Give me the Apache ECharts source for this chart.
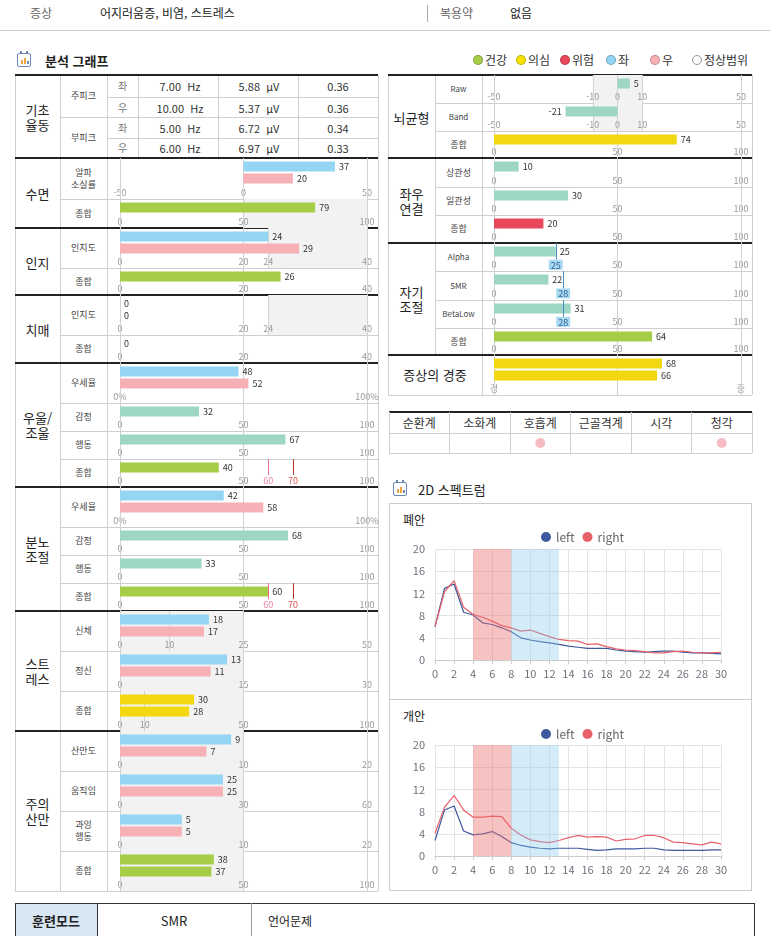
<!DOCTYPE html>
<html lang="ko"><head><meta charset="utf-8">
<script src="https://cdn.jsdelivr.net/npm/echarts@6.0.0/dist/echarts.min.js"></script>
<style>
html,body{margin:0;padding:0;background:#fff;}
#page{position:relative;width:770px;height:936px;overflow:hidden;font-family:"Noto Sans CJK KR","Noto Sans",sans-serif;color:#222;background:#fff;}
#deco,#chart{position:absolute;left:0;top:0;width:770px;height:936px;}
.l{position:absolute;}
.t{position:absolute;white-space:pre;line-height:1.15;transform:translate(-50%,-50%);text-align:center;}
.tl{position:absolute;white-space:pre;line-height:1;transform:translateY(-50%);}
</style></head>
<body><div id="page"><div id="deco"></div><div id="chart"></div></div>
<script>
// ================= DATA =================
const symptomText = '어지러움증, 비염, 스트레스';
const medicineText = '없음';
const legendNames = ['건강','의심','위험','좌','우','정상범위'];

const peakGroups = ['주피크','부피크'];
const peakSides = ['좌','우','좌','우'];
const peakFreqHz = ['7.00','10.00','5.00','6.00'];
const peakAmpUv = ['5.88','5.37','6.72','6.97'];
const peakRatio = ['0.36','0.36','0.34','0.33'];

const leftSections = ['기초\n율동','수면','인지','치매','우울/\n조울','분노\n조절','스트\n레스','주의\n산만'];
const leftItems = ['알파\n소실률','종합','인지도','종합','인지도','종합','우세율','감정','행동','종합','우세율','감정','행동','종합','신체','정신','종합','산만도','움직임','과잉\n행동','종합'];

const sleepAlphaLoss = [37, 20];
const sleepTotal = [79];
const cognitionIndex = [24, 29];
const cognitionTotal = [26];
const dementiaIndex = [0, 0];
const dementiaTotal = [0];
const depressionDominance = [48, 52];
const depressionEmotion = [32];
const depressionBehavior = [67];
const depressionTotal = [40];
const angerDominance = [42, 58];
const angerEmotion = [68];
const angerBehavior = [33];
const angerTotal = [60];
const stressBody = [18, 17];
const stressMind = [13, 11];
const stressTotal = [30, 28];
const attentionDistract = [9, 7];
const attentionMotion = [25, 25];
const attentionHyper = [5, 5];
const attentionTotal = [38, 37];

const rightSections = ['뇌균형','좌우\n연결','자기\n조절'];
const rightItems = ['Raw','Band','종합','상관성','일관성','종합','Alpha','SMR','BetaLow','종합'];
const severityTitle = '증상의 경중';
const brainRaw = [5];
const brainBand = [-21];
const brainTotal = [74];
const lrCorrelation = [10];
const lrConsistency = [30];
const lrTotal = [20];
const selfAlpha = [25];
const selfSmr = [22];
const selfBetaLow = [31];
const selfRefs = [25, 28, 28];
const selfTotal = [64];
const severity = [68, 66];

// tick labels and reference ranges
const ticksPm50 = [-50, 0, 50];
const ticks100 = [0, 50, 100];
const ticksCog = [0, 20, 24, 40];
const ticks40 = [0, 20, 40];
const ticksStressBody = [0, 10, 25, 50];
const ticksStressMind = [0, 15, 30];
const ticksStressTotal = [0, 10, 50, 100];
const ticks20 = [0, 10, 20];
const ticks60 = [0, 30, 60];
const ticksBalance = [-50, -10, 0, 10, 50];
const labelsEnds = [0, 100];
const severityLabels = ['경', '중'];
const riskMarks = [60, 70];
const normalSleep = [50, 100];
const normalCog = [24, 40];
const normalStressBody = [0, 25];
const normalStressMind = [0, 15];
const normalStressTotal = [0, 50];
const normalDistract = [0, 10];
const normalMotion = [0, 30];
const normalHyper = [0, 10];
const normalAttention = [0, 50];
const normalBalance = [-10, 10];

const bodySystems = ['순환계','소화계','호흡계','근골격계','시각','청각'];
const bodyFlags = [0, 0, 1, 0, 0, 1];

const spectrumTitles = ['폐안', '개안'];
const specHz = [0,1,2,3,4,5,6,7,8,9,10,11,12,13,14,15,16,17,18,19,20,21,22,23,24,25,26,27,28,29,30];
const closedLeft  = [6.0,12.9,13.7,8.6,8.1,6.7,6.4,5.8,5.1,4.0,3.6,3.3,3.1,2.8,2.5,2.3,2.1,2.1,2.1,1.8,1.6,1.5,1.4,1.5,1.6,1.6,1.4,1.3,1.3,1.2,1.1];
const closedRight = [6.0,12.3,14.3,9.5,8.2,7.7,7.0,6.2,5.8,5.2,5.4,4.8,4.2,3.7,3.5,3.4,2.8,2.9,2.4,2.0,1.8,1.7,1.5,1.3,1.3,1.5,1.6,1.4,1.3,1.3,1.4];
const openLeft    = [2.8,8.3,9.0,4.5,3.8,4.0,4.4,3.5,2.4,1.9,1.6,1.4,1.3,1.4,1.4,1.4,1.2,1.0,1.1,1.3,1.3,1.3,1.4,1.4,1.1,1.0,1.0,1.0,1.0,1.1,1.1];
const openRight   = [4.1,8.8,10.9,8.3,7.0,7.0,7.2,7.1,5.0,3.8,2.9,2.6,2.4,2.8,3.3,3.7,3.4,3.5,3.4,2.7,3.0,3.1,3.7,3.7,3.3,2.5,2.4,2.2,2.0,2.5,2.2];
const thetaBand = [4, 8];
const alphaBand = [8, 13];

const trainingLabel = '훈련모드';
const trainingMode = 'SMR';
const trainingNote = '언어문제';

// ================= STYLE / LAYOUT =================
const FONT = '"Noto Sans CJK KR","Noto Sans",sans-serif';
const BLUE='#93d5f2', PINK='#f6b0b6', GREEN='#a6cd48', YELLOW='#f2d810', TEAL='#9dd6c4', RED='#e8485a';
const LR=[BLUE,PINK];
const GRAY='#cfcfcf', DARK='#222';

const deco = document.getElementById('deco');
function box(x,y,w,h,style){const d=document.createElement('div');d.className='l';d.style.cssText=`left:${x}px;top:${y}px;width:${w}px;height:${h}px;`+(style||'');deco.appendChild(d);return d;}
function hl(x1,x2,y,c,w){w=w||1;box(x1,y-w/2,x2-x1,w,'background:'+c);}
function vl(x,y1,y2,c,w){w=w||1;box(x-w/2,y1,w,y2-y1,'background:'+c);}
function tc(x,y,s,style){const d=document.createElement('div');d.className='t';d.style.cssText=`left:${x}px;top:${y}px;`+(style||'');d.textContent=s;deco.appendChild(d);return d;}
function tl(x,y,s,style){const d=document.createElement('div');d.className='tl';d.style.cssText=`left:${x}px;top:${y}px;`+(style||'');d.textContent=s;deco.appendChild(d);return d;}

// header
tl(30,13,'증상','font-size:12px;color:#666;');
tl(100,13,symptomText,'font-size:12px;color:#222;');
vl(427,5,22,'#aaa');
tl(440,13,'복용약','font-size:12px;color:#666;');
tl(510,13,medicineText,'font-size:12px;color:#222;');
hl(0,770,30.5,'#c8c8c8',1.5);

// section title icons
function icon(x,y){
  box(x,y,14,14,'border:1.5px solid #6d86b6;border-radius:2px;box-sizing:border-box;background:#fff;');
  box(x+4,y+7,2,4,'background:#f0a640;');box(x+7,y+5,2,6,'background:#f0a640;');box(x+10-0.5,y+8,2,3,'background:#6d86b6;');
  box(x+3,y-2,2,3,'background:#6d86b6;');box(x+9,y-2,2,3,'background:#6d86b6;');
}
icon(17,53);
tl(45,60,'분석 그래프','font-size:13px;font-weight:bold;color:#222;');
icon(393,482);
tl(418,489,'2D 스펙트럼','font-size:13px;color:#222;');

// top legend
(function(){
  const cols=[GREEN,'#f7e000',RED,BLUE,PINK,'#fff'];
  const cx=[478,521,565,611,655,697];
  legendNames.forEach((n,i)=>{
    box(cx[i]-5,55,10,10,`border-radius:50%;box-sizing:border-box;background:${cols[i]};border:1px solid ${i===5?'#999':'rgba(0,0,0,0.22)'};`);
    tl(cx[i]+7,60,n,'font-size:12px;color:#333;');
  });
})();

// ---- left table frame ----
const L0=15,L1=60,L2=107,L3=378;
const leftBounds=[75,158,228,295,363,487,611,731,891];
vl(L0,75,891,GRAY);vl(L1,75,891,GRAY);vl(L2,75,891,GRAY);vl(L3,75,891,GRAY);
hl(L0,L3,891,GRAY);
[97,138].forEach(y=>hl(L2,L3,y,GRAY));
hl(L1,L3,117.5,GRAY);
[138,218,298].forEach(x=>vl(x,75,158,GRAY));
leftSections.forEach((s,i)=>tc((L0+L1)/2,(leftBounds[i]+leftBounds[i+1])/2,s,'font-size:13px;color:#222;line-height:15px;'));
tc((L1+L2)/2,96,peakGroups[0],'font-size:9px;color:#444;');
tc((L1+L2)/2,138,peakGroups[1],'font-size:9px;color:#444;');
const peakRowY=[86,107.5,128,148];
peakRowY.forEach((y,i)=>{
  tc(122.5,y,peakSides[i],'font-size:10px;color:#777;');
  tc(180,y,peakFreqHz[i]+'  Hz','font-size:11px;color:#333;');
  tc(259,y,peakAmpUv[i]+'  μV','font-size:11px;color:#333;');
  tc(338,y,peakRatio[i],'font-size:11px;color:#333;');
});

// ---- right table frame ----
const R0=388,R1=435,R2=482,R3=752;
const rightBounds=[75,158,243,355];
vl(R0,75,395,GRAY);vl(R1,75,355,GRAY);vl(R2,75,395,GRAY);vl(R3,75,395,GRAY);
hl(R0,R3,395,GRAY);
rightSections.forEach((s,i)=>tc((R0+R1)/2,(rightBounds[i]+rightBounds[i+1])/2,s,'font-size:13px;color:#222;line-height:15px;'));
tc((R0+R2)/2,375,severityTitle,'font-size:13px;color:#222;');

// ---- body system table ----
const B0=389,B1=752;
hl(B0,B1,412,DARK,2);hl(B0,B1,433,GRAY);hl(B0,B1,453,GRAY);
for(let i=0;i<=6;i++)vl(B0+(B1-B0)*i/6,412,453,GRAY);
bodySystems.forEach((s,i)=>tc(B0+(B1-B0)*(i+0.5)/6,422.5,s,'font-size:12px;color:#333;'));

// ---- spectrum box ----
box(389,503,363,388,'border:1px solid #ccc;box-sizing:border-box;');
hl(389,752,699,'#ccc');
tl(403,520,spectrumTitles[0],'font-size:12px;color:#222;');
tl(403,716,spectrumTitles[1],'font-size:12px;color:#222;');

// ---- training mode row ----
box(15,903,740,40,'border:1px solid #333;box-sizing:border-box;');
box(16,904,81,38,'background:#d9e7f5;');
vl(97,903,936,'#333');vl(251,903,936,'#999');
tc(56,921,trainingLabel,'font-size:13px;font-weight:bold;color:#222;');
tc(174,921,trainingMode,'font-size:13px;color:#222;');
tl(268,921,trainingNote,'font-size:12px;color:#222;');

// ================= ECHARTS =================
const option={animation:false,textStyle:{fontFamily:FONT},grid:[],xAxis:[],yAxis:[],series:[],legend:[]};
function gcd(a,b){a=Math.abs(a);b=Math.abs(b);while(b){const t=a%b;a=b;b=t;}return a;}

function addBarRow(r,L,R){
  const labels=r.labels||r.ticks;
  const step=r.ticks.concat(labels).reduce((g,v)=>gcd(g,v-r.min),0)||(r.max-r.min);
  // grid A: full row (grid lines, shading, axis labels, markers)
  const gA=option.grid.length;
  option.grid.push({left:L,top:r.top,width:R-L,height:r.h});
  option.xAxis.push({type:'value',gridIndex:gA,min:r.min,max:r.max,interval:step,
    axisLine:{show:false},axisTick:{show:false},splitLine:{show:false},
    axisLabel:{inside:true,margin:1.5,fontSize:9,color:'#999',hideOverlap:false,
      formatter:v=>labels.indexOf(v)>=0?(r.fmt?r.fmt(v):String(v)):''}});
  option.yAxis.push({type:'value',gridIndex:gA,min:0,max:1,show:false});
  if(r.shade){
    option.series.push({type:'scatter',xAxisIndex:gA,yAxisIndex:gA,data:[[r.min,0]],symbolSize:0,silent:true,z:0,
      markArea:{silent:true,z:0,itemStyle:{color:'#f2f2f2'},data:[[{xAxis:r.shade[0]},{xAxis:r.shade[1]}]]}});
  }
  option.series.push({type:'scatter',xAxisIndex:gA,yAxisIndex:gA,data:[[r.min,0]],symbolSize:0,silent:true,z:1,
    markLine:{silent:true,z:1,symbol:'none',label:{show:false},lineStyle:{color:'#d2d2d2',width:1,type:'solid'},
      data:r.ticks.map(v=>({xAxis:v}))}});
  if(r.marks){
    const mc=[['#e56a9a','#ec87a5'],['#b7372b','#e0584f']];
    option.series.push({type:'scatter',xAxisIndex:gA,yAxisIndex:gA,data:[[r.min,0]],symbolSize:0,silent:true,z:6,
      markLine:{silent:true,z:6,symbol:'none',
        data:r.marks.map((m,i)=>[{xAxis:m,yAxis:0.43,lineStyle:{color:mc[i][0],width:1,type:'solid'},
            label:{show:true,position:'start',distance:1,formatter:String(m),fontSize:9,color:mc[i][1]}},{xAxis:m,yAxis:1}])}});
  }
  if(r.ref!==undefined){
    option.series.push({type:'scatter',xAxisIndex:gA,yAxisIndex:gA,data:[[r.min,0]],symbolSize:0,silent:true,z:6,
      markLine:{silent:true,z:6,symbol:'none',
        data:[[{xAxis:r.ref,yAxis:0.4,lineStyle:{color:'#4a8fc2',width:1,type:'solid'},
            label:{show:true,position:'start',distance:0,formatter:String(r.ref),fontSize:9,color:'#2c5f8f',backgroundColor:'#a9d9f1',padding:[1,2,0,2]}},{xAxis:r.ref,yAxis:1}]]}});
  }
  // grid B: bars
  const gB=option.grid.length;
  const n=r.v.length;
  option.grid.push({left:L,top:r.top+2.5,width:R-L,height:12*n});
  option.xAxis.push({type:'value',gridIndex:gB,min:r.min,max:r.max,show:false});
  option.yAxis.push({type:'category',gridIndex:gB,data:r.v.map((_,i)=>String(i)),inverse:true,show:false});
  option.series.push({type:'bar',xAxisIndex:gB,yAxisIndex:gB,barWidth:10,z:3,silent:true,
    data:r.v.map((v,i)=>({value:v,itemStyle:{color:r.c[i]},label:{position:v<0?'left':'right'}})),
    label:{show:true,fontSize:9,color:'#333',distance:4}});
}

const leftRows=[
 {top:158,h:41,v:sleepAlphaLoss,c:LR,min:-50,max:50,ticks:ticksPm50},
 {top:199,h:29,v:sleepTotal,c:[GREEN],min:0,max:100,ticks:ticks100,shade:normalSleep},
 {top:228,h:40,v:cognitionIndex,c:LR,min:0,max:40,ticks:ticksCog,shade:normalCog},
 {top:268,h:27,v:cognitionTotal,c:[GREEN],min:0,max:40,ticks:ticks40},
 {top:295,h:40,v:dementiaIndex,c:LR,min:0,max:40,ticks:ticksCog,shade:normalCog},
 {top:335,h:28,v:dementiaTotal,c:[GREEN],min:0,max:40,ticks:ticks40},
 {top:363,h:40,v:depressionDominance,c:LR,min:0,max:100,ticks:ticks100,labels:labelsEnds,fmt:v=>v+'%'},
 {top:403,h:28,v:depressionEmotion,c:[TEAL],min:0,max:100,ticks:ticks100},
 {top:431,h:28,v:depressionBehavior,c:[TEAL],min:0,max:100,ticks:ticks100},
 {top:459,h:28,v:depressionTotal,c:[GREEN],min:0,max:100,ticks:ticks100,marks:riskMarks},
 {top:487,h:40,v:angerDominance,c:LR,min:0,max:100,ticks:ticks100,labels:labelsEnds,fmt:v=>v+'%'},
 {top:527,h:28,v:angerEmotion,c:[TEAL],min:0,max:100,ticks:ticks100},
 {top:555,h:28,v:angerBehavior,c:[TEAL],min:0,max:100,ticks:ticks100},
 {top:583,h:28,v:angerTotal,c:[GREEN],min:0,max:100,ticks:ticks100,marks:riskMarks},
 {top:611,h:40,v:stressBody,c:LR,min:0,max:50,ticks:ticksStressBody,shade:normalStressBody},
 {top:651,h:40,v:stressMind,c:LR,min:0,max:30,ticks:ticksStressMind,shade:normalStressMind},
 {top:691,h:40,v:stressTotal,c:[YELLOW,YELLOW],min:0,max:100,ticks:ticksStressTotal,shade:normalStressTotal},
 {top:731,h:40,v:attentionDistract,c:LR,min:0,max:20,ticks:ticks20,shade:normalDistract},
 {top:771,h:40,v:attentionMotion,c:LR,min:0,max:60,ticks:ticks60,shade:normalMotion},
 {top:811,h:40,v:attentionHyper,c:LR,min:0,max:20,ticks:ticks20,shade:normalHyper},
 {top:851,h:40,v:attentionTotal,c:[GREEN,GREEN],min:0,max:100,ticks:ticks100,shade:normalAttention}
];
const rightRows=[
 {top:75,h:28,v:brainRaw,c:[TEAL],min:-50,max:50,ticks:ticksBalance,shade:normalBalance},
 {top:103,h:28,v:brainBand,c:[TEAL],min:-50,max:50,ticks:ticksBalance,shade:normalBalance},
 {top:131,h:27,v:brainTotal,c:[YELLOW],min:0,max:100,ticks:ticks100},
 {top:158,h:29,v:lrCorrelation,c:[TEAL],min:0,max:100,ticks:ticks100},
 {top:187,h:28,v:lrConsistency,c:[TEAL],min:0,max:100,ticks:ticks100},
 {top:215,h:28,v:lrTotal,c:[RED],min:0,max:100,ticks:ticks100},
 {top:243,h:28,v:selfAlpha,c:[TEAL],min:0,max:100,ticks:ticks100,ref:selfRefs[0]},
 {top:271,h:29,v:selfSmr,c:[TEAL],min:0,max:100,ticks:ticks100,ref:selfRefs[1]},
 {top:300,h:28,v:selfBetaLow,c:[TEAL],min:0,max:100,ticks:ticks100,ref:selfRefs[2]},
 {top:328,h:27,v:selfTotal,c:[GREEN],min:0,max:100,ticks:ticks100},
 {top:355,h:40,v:severity,c:[YELLOW,YELLOW],min:0,max:100,ticks:ticks100,labels:labelsEnds,fmt:v=>v===0?severityLabels[0]:severityLabels[1]}
];
leftRows.forEach(r=>addBarRow(r,120,367));
rightRows.forEach(r=>addBarRow(r,494,741));

// table row text + lines
leftRows.forEach((r,i)=>{
  tc((L1+L2)/2,r.top+r.h/2,leftItems[i],'font-size:9px;color:#444;line-height:12px;');
  if(!leftBounds.includes(r.top))hl(L1,L3,r.top,GRAY);
});
leftBounds.slice(0,8).forEach(y=>hl(L0,L3,y,DARK,2));
rightRows.forEach((r,i)=>{
  if(i<rightItems.length)tc((R1+R2)/2,r.top+r.h/2,rightItems[i],'font-size:'+(/[A-Za-z]/.test(rightItems[i])?8:9)+'px;color:#444;');
  if(!rightBounds.includes(r.top)&&r.top!==355)hl(R1,R3,r.top,GRAY);
});
rightBounds.concat([355]).forEach(y=>hl(R0,R3,y,DARK,2));

// body system dots
(function(){
  const g=option.grid.length;
  option.grid.push({left:B0,top:433,width:B1-B0,height:20});
  option.xAxis.push({type:'category',gridIndex:g,data:bodySystems,show:false});
  option.yAxis.push({type:'value',gridIndex:g,min:0,max:1,show:false});
  option.series.push({type:'scatter',xAxisIndex:g,yAxisIndex:g,symbolSize:10,silent:true,itemStyle:{color:'#f5aab4'},
    data:bodyFlags.map((f,i)=>f?[i,0.5]:null).filter(d=>d)});
})();

// spectrum charts
function addSpectrum(top,legendTop,leftVals,rightVals){
  const g=option.grid.length;
  option.grid.push({left:435,top:top,width:286,height:111});
  option.xAxis.push({type:'value',gridIndex:g,min:0,max:30,interval:2,
    axisLine:{lineStyle:{color:'#cccccc'}},axisTick:{show:true,length:4,lineStyle:{color:'#cccccc'}},
    axisLabel:{color:'#6e7079',fontSize:11,margin:8},splitLine:{show:true,lineStyle:{color:'#e4e4e4'}}});
  option.yAxis.push({type:'value',gridIndex:g,min:0,max:20,interval:4,
    axisLine:{show:false},axisTick:{show:false},
    axisLabel:{color:'#6e7079',fontSize:11,margin:10},splitLine:{show:true,lineStyle:{color:'#e4e4e4'}}});
  option.series.push({name:'left',type:'line',xAxisIndex:g,yAxisIndex:g,symbol:'none',z:2,
    color:'#3d5a9e',lineStyle:{width:1.2,color:'#3d5a9e'},data:specHz.map((x,i)=>[x,leftVals[i]])});
  option.series.push({name:'right',type:'line',xAxisIndex:g,yAxisIndex:g,symbol:'none',z:2,
    color:'#e8606a',lineStyle:{width:1.2,color:'#e8606a'},data:specHz.map((x,i)=>[x,rightVals[i]])});
  option.series.push({type:'scatter',xAxisIndex:g,yAxisIndex:g,data:[[0,0]],symbolSize:0,silent:true,z:3,
    markArea:{silent:true,z:3,data:[
      [{xAxis:thetaBand[0],itemStyle:{color:'rgba(235,110,110,0.42)'}},{xAxis:thetaBand[1]}],
      [{xAxis:alphaBand[0],itemStyle:{color:'rgba(135,200,235,0.36)'}},{xAxis:alphaBand[1]}]]}});
  option.legend.push({data:['left','right'],left:536,top:legendTop,icon:'circle',itemWidth:10,itemHeight:10,itemGap:8,
    textStyle:{color:'#666',fontSize:12},selectedMode:false});
}
addSpectrum(549,526,closedLeft,closedRight);
addSpectrum(745,723,openLeft,openRight);

const chart=echarts.init(document.getElementById('chart'),null,{renderer:'canvas'});
chart.setOption(option);
</script></body></html>
